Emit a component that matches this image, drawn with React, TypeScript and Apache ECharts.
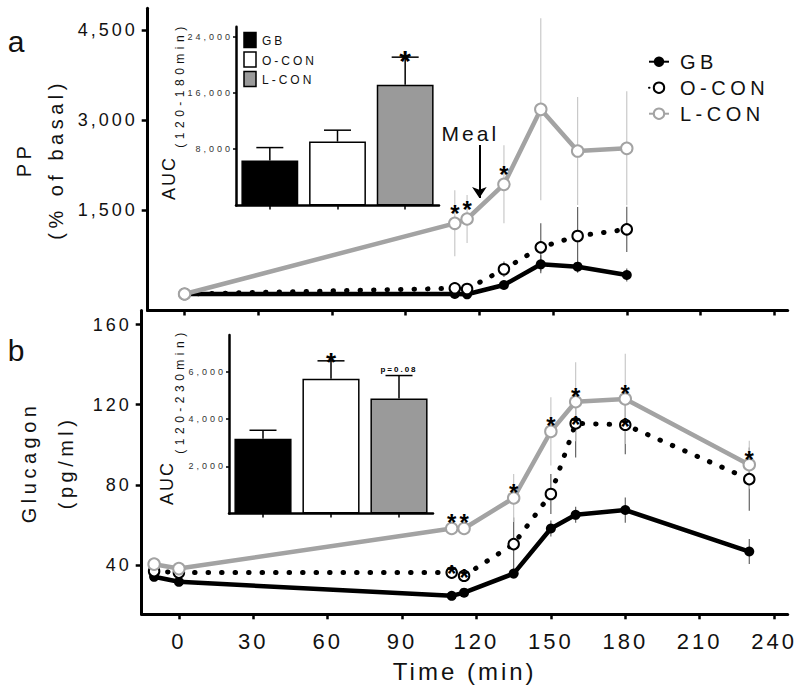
import React, { useEffect, useRef } from 'react';
import * as echarts from 'echarts';

// ---------- data ----------
const groups = ['GB', 'O-CON', 'L-CON'];

// Panel a: PP (% of basal)
const ppTimes = [0, 110, 115, 130, 145, 160, 180];
const ppGB = [100, 100, 95, 250, 595, 555, 417];
const ppGBsem = [0, 30, 30, 50, 150, 100, 110];
const ppOCON = [100, 195, 183, 512, 878, 1067, 1178];
const ppOCONsem = [0, 30, 30, 130, 400, 483, 377];
const ppLCON = [100, 1278, 1350, 1928, 3178, 2483, 2528];
const ppLCONsem = [0, 550, 400, 650, 1517, 900, 950];
const ppLCONstars = [110, 115, 130];
const mealTime = 120;
const mealArrowFrom = 2583;
const mealArrowTo = 1700;

// Panel a inset: AUC (120-180 min)
const aucPP = [6380, 9080, 17137];
const aucPPsem = [1847, 1620, 3936];
const aucPPstars = ['L-CON'];

// Panel b: Glucagon (pg/ml)
const glTimes = [-10, 0, 110, 115, 135, 150, 160, 180, 230];
const glGB = [34.2, 31.7, 24.7, 26.3, 35.8, 58.3, 65.1, 67.5, 46.8];
const glGBsem = [1.5, 1.5, 1.5, 1.5, 2.5, 4, 4, 6.3, 6.2];
const glOCON = [37, 36.3, 36.3, 34.7, 50.5, 75.5, 110.7, 110, 82.9];
const glOCONsem = [2, 2, 2, 2, 13.3, 10, 17, 14.7, 15.8];
const glLCON = [40.5, 38.3, 58.3, 58.3, 73.5, 106.7, 121.5, 122.9, 90.1];
const glLCONsem = [2, 2, 2.5, 2.5, 12, 17, 19.7, 22.5, 12];
const glLCONstars = [110, 115, 135, 150, 160, 180, 230];
const glOCONstars = [110, 115, 160, 180];

// Panel b inset: AUC (120-230 min)
const aucGl = [3161, 5703, 4869];
const aucGlsem = [364, 763, 974];
const aucGlstars = ['O-CON'];
const aucGlPgroups = ['L-CON'];
const aucGlPtext = 'p=0.08';

// ticks
const timeTicks = [0, 30, 60, 90, 120, 150, 180, 210, 240];
const ppTicks = [1500, 3000, 4500];
const glTicks = [40, 80, 120, 160];
const aucPPTicks = [8000, 16000, 24000];
const aucGlTicks = [2000, 4000, 6000];

// ---------- styles ----------
const F0 = 'Liberation Sans';
const F3 = 'Liberation Sans, sans-serif';
const F45 = 'Liberation Sans, Arial';
const F2 = 'Liberation Sans, Helvetica';
const INK = '#111';
const GRAY = '#a3a3a3';
const barColors = ['#000000', '#ffffff', '#9a9a9a'];
const fmt = (v: number) => v.toLocaleString('en-US');

function lineSeries(name: string, gi: number, times: number[], vals: number[], kind: string) {
  const base: any = {
    type: 'line', name, xAxisIndex: gi, yAxisIndex: gi, z: 3,
    data: times.map((t, i) => [t, vals[i]]),
  };
  if (kind === 'GB') {
    base.symbol = 'circle'; base.symbolSize = 10;
    base.lineStyle = { color: '#000', width: 4.5 };
    base.itemStyle = { color: '#000' };
  } else if (kind === 'O-CON') {
    base.symbol = 'emptyCircle'; base.symbolSize = 10.5;
    base.lineStyle = { color: '#000', width: 5, type: [0.5, 13], cap: 'round' };
    base.itemStyle = { color: '#000', borderWidth: 2.6 };
  } else {
    base.symbol = 'emptyCircle'; base.symbolSize = 11.5;
    base.lineStyle = { color: GRAY, width: 4.5 };
    base.itemStyle = { color: GRAY, borderWidth: 2.5 };
    base.z = 4;
  }
  return base;
}

function errSeries(gi: number, times: number[], vals: number[], sems: number[], color: string) {
  return {
    type: 'custom', name: 'err', xAxisIndex: gi, yAxisIndex: gi, silent: true, z: 1,
    data: times.map((t, i) => [t, vals[i] - sems[i], vals[i] + sems[i]]),
    encode: { x: 0, y: [1, 2] },
    renderItem: (params: any, api: any) => {
      const a = api.coord([api.value(0), api.value(1)]);
      const b = api.coord([api.value(0), api.value(2)]);
      return { type: 'line', shape: { x1: a[0], y1: a[1], x2: b[0], y2: b[1] }, style: { stroke: color, lineWidth: 1.1 } };
    },
  };
}

// text annotations (asterisks, p-value) anchored to data points through the axes
function noteSeries(gi: number, points: number[][], text: string, size: number, dy: number, family: string, weight: string) {
  return {
    type: 'custom', name: 'note', xAxisIndex: gi, yAxisIndex: gi, silent: true, z: 10,
    data: points,
    encode: { x: 0, y: 1 },
    renderItem: (params: any, api: any) => {
      const p = api.coord([api.value(0), api.value(1)]);
      return {
        type: 'text', x: p[0], y: p[1] + dy,
        style: { text, fill: '#000', font: `${weight} ${size}px ${family}`, align: 'center', verticalAlign: 'middle' },
      };
    },
  };
}

const starPoints = (times: number[], vals: number[], stars: number[]) => stars.map((t) => [t, vals[times.indexOf(t)]]);
const capPoints = (vals: number[], sems: number[], which: string[]) =>
  which.map((g) => { const i = groups.indexOf(g); return [i, vals[i] + sems[i]]; });

function barSeries(gi: number, vals: number[]) {
  return {
    type: 'bar', name: 'auc', xAxisIndex: gi, yAxisIndex: gi, barWidth: '84%', z: 2,
    data: vals.map((v, i) => ({ value: v, itemStyle: { color: barColors[i], borderColor: '#000', borderWidth: 1.5 } })),
  };
}

function barErrSeries(gi: number, vals: number[], sems: number[]) {
  return {
    type: 'custom', name: 'auc err', xAxisIndex: gi, yAxisIndex: gi, silent: true, z: 3,
    data: vals.map((v, i) => [i, v, v + sems[i]]),
    encode: { x: 0, y: [1, 2] },
    renderItem: (params: any, api: any) => {
      const a = api.coord([api.value(0), api.value(1)]);
      const b = api.coord([api.value(0), api.value(2)]);
      return {
        type: 'group',
        children: [
          { type: 'line', shape: { x1: a[0], y1: a[1], x2: b[0], y2: b[1] }, style: { stroke: '#000', lineWidth: 1.5 } },
          { type: 'line', shape: { x1: b[0] - 13.5, y1: b[1], x2: b[0] + 13.5, y2: b[1] }, style: { stroke: '#000', lineWidth: 1.5 } },
        ],
      };
    },
  };
}

function mainX(gi: number, labels: boolean): any {
  return {
    type: 'value', gridIndex: gi, min: -15, max: 245.5,
    axisLine: { show: true, onZero: false, lineStyle: { color: '#000', width: 3 } },
    axisTick: { show: true, customValues: timeTicks, length: 5, lineStyle: { color: '#000', width: 2.5 } },
    axisLabel: labels
      ? { show: true, customValues: timeTicks, fontSize: 22, fontFamily: F3, color: INK, margin: 16 }
      : { show: false },
    splitLine: { show: false },
    ...(labels ? { name: 'Time (min)', nameLocation: 'middle', nameGap: 45, nameTextStyle: { fontSize: 24, fontFamily: F3, color: INK } } : {}),
  };
}

function mainY(gi: number, min: number, max: number, ticks: number[], name: string, lh: number, gap: number): any {
  return {
    type: 'value', gridIndex: gi, min, max,
    axisLine: { show: true, onZero: false, lineStyle: { color: '#000', width: 3 } },
    axisTick: { show: true, customValues: ticks, length: 6, lineStyle: { color: '#000', width: 2.5 } },
    axisLabel: { show: true, customValues: ticks, formatter: fmt, fontSize: 18, fontFamily: F3, color: INK, margin: 10 },
    splitLine: { show: false },
    name, nameLocation: 'middle', nameRotate: 90, nameGap: gap,
    nameTextStyle: { fontSize: 20, lineHeight: lh, fontFamily: F45, color: INK },
  };
}

function insetX(gi: number): any {
  return {
    type: 'category', gridIndex: gi, data: groups,
    axisLine: { show: true, onZero: false, lineStyle: { color: '#000', width: 2.5 } },
    axisTick: { show: true, alignWithLabel: true, length: 4, lineStyle: { color: '#000', width: 1.5 } },
    axisLabel: { show: false },
    splitLine: { show: false },
  };
}

function insetY(gi: number, max: number, ticks: number[]): any {
  return {
    type: 'value', gridIndex: gi, min: 0, max,
    axisLine: { show: true, onZero: false, lineStyle: { color: '#000', width: 2.5 } },
    axisTick: { show: true, customValues: ticks, length: 3, lineStyle: { color: '#000', width: 1.5 } },
    axisLabel: { show: true, customValues: ticks, formatter: fmt, fontSize: 9, fontFamily: F3, color: '#333', margin: 3 },
    splitLine: { show: false },
  };
}

function buildOption(): any {
  const insetLegendRows = [40, 59.5, 79];
  const graphic: any[] = [
    { type: 'text', x: 16, y: 41.5, style: { text: 'a', font: `30px ${F0}`, fill: INK, textAlign: 'center', textVerticalAlign: 'middle' } },
    { type: 'text', x: 16, y: 350, style: { text: 'b', font: `30px ${F0}`, fill: INK, textAlign: 'center', textVerticalAlign: 'middle' } },
    { type: 'text', x: 168.5, y: 178, rotation: Math.PI / 2, style: { text: 'AUC', font: `18px ${F2}`, fill: INK, textAlign: 'center', textVerticalAlign: 'middle' } },
    { type: 'text', x: 180, y: 85, rotation: Math.PI / 2, style: { text: '(120-180min)', font: `12px ${F45}`, fill: INK, textAlign: 'center', textVerticalAlign: 'middle' } },
    { type: 'text', x: 167, y: 483, rotation: Math.PI / 2, style: { text: 'AUC', font: `18px ${F2}`, fill: INK, textAlign: 'center', textVerticalAlign: 'middle' } },
    { type: 'text', x: 179.5, y: 391, rotation: Math.PI / 2, style: { text: '(120-230min)', font: `12px ${F45}`, fill: INK, textAlign: 'center', textVerticalAlign: 'middle' } },
  ];
  groups.forEach((g, i) => {
    graphic.push({ type: 'rect', shape: { x: 244, y: insetLegendRows[i] - 7.5, width: 12, height: 15 }, style: { fill: barColors[i], stroke: '#000', lineWidth: 1.5 } });
    graphic.push({ type: 'text', x: 262, y: insetLegendRows[i] + 1, style: { text: g, font: `12px ${F3}`, fill: INK, textAlign: 'left', textVerticalAlign: 'middle' } });
  });

  const ppL = lineSeries('L-CON', 0, ppTimes, ppLCON, 'L-CON');
  ppL.markLine = {
    silent: true, symbol: ['none', 'arrow'], symbolSize: 11,
    lineStyle: { color: '#000', width: 2, type: 'solid' },
    label: { show: true, position: 'start', formatter: 'Meal', fontSize: 21, fontFamily: F3, color: INK, distance: 1, offset: [-9, 0] },
    data: [[{ coord: [mealTime, mealArrowFrom] }, { coord: [mealTime, mealArrowTo] }]],
  };

  return {
    animation: false,
    backgroundColor: '#fff',
    grid: [
      { left: 141.7, top: 8.3, width: 646, height: 302.2 },
      { left: 141.7, top: 310.5, width: 646, height: 303.8 },
      { left: 236, top: 26.7, width: 203, height: 178.8 },
      { left: 229, top: 335, width: 204, height: 178.5 },
    ],
    xAxis: [mainX(0, false), mainX(1, true), insetX(2), insetX(3)],
    yAxis: [
      mainY(0, -175, 4862, ppTicks, 'PP\n(% of basal)', 32, 75.7),
      mainY(1, 15.5, 167, glTicks, 'Glucagon\n(pg/ml)', 37, 57.2),
      insetY(2, 25400, aucPPTicks),
      insetY(3, 7560, aucGlTicks),
    ],
    legend: {
      data: groups, orient: 'vertical', left: 648, top: 50.7, padding: 0,
      itemWidth: 20, itemHeight: 13, itemGap: 4, selectedMode: false,
      textStyle: { fontSize: 20, lineHeight: 22, fontFamily: F45, color: INK, padding: [0, 0, 0, 6] },
    },
    graphic,
    series: [
      lineSeries('GB', 0, ppTimes, ppGB, 'GB'),
      lineSeries('O-CON', 0, ppTimes, ppOCON, 'O-CON'),
      ppL,
      errSeries(0, ppTimes, ppGB, ppGBsem, '#555'),
      errSeries(0, ppTimes, ppOCON, ppOCONsem, '#555'),
      errSeries(0, ppTimes, ppLCON, ppLCONsem, '#c4c4c4'),
      noteSeries(0, starPoints(ppTimes, ppLCON, ppLCONstars), '*', 24, -9.6, F0, 'bold'),

      lineSeries('GB', 1, glTimes, glGB, 'GB'),
      lineSeries('O-CON', 1, glTimes, glOCON, 'O-CON'),
      lineSeries('L-CON', 1, glTimes, glLCON, 'L-CON'),
      errSeries(1, glTimes, glGB, glGBsem, '#555'),
      errSeries(1, glTimes, glOCON, glOCONsem, '#555'),
      errSeries(1, glTimes, glLCON, glLCONsem, '#c4c4c4'),
      noteSeries(1, starPoints(glTimes, glLCON, glLCONstars), '*', 24, -5.6, F0, 'bold'),
      noteSeries(1, starPoints(glTimes, glOCON, glOCONstars), '*', 24, 1.4, F0, 'bold'),

      barSeries(2, aucPP),
      barErrSeries(2, aucPP, aucPPsem),
      noteSeries(2, capPoints(aucPP, aucPPsem, aucPPstars), '*', 30, 3.4, F0, 'bold'),

      barSeries(3, aucGl),
      barErrSeries(3, aucGl, aucGlsem),
      noteSeries(3, capPoints(aucGl, aucGlsem, aucGlstars), '*', 26, 1.2, F0, 'bold'),
      noteSeries(3, capPoints(aucGl, aucGlsem, aucGlPgroups), aucGlPtext, 8, -6, F2, 'bold'),
    ],
  };
}

export default function App() {
  const ref = useRef<HTMLDivElement>(null);
  useEffect(() => {
    if (!ref.current) return;
    const chart = echarts.init(ref.current, undefined, { renderer: 'svg' });
    chart.setOption(buildOption());
    return () => chart.dispose();
  }, []);
  return (
    <>
      <style>{`
        #c text[style*="Arial"]{letter-spacing:4.5px}
        #c text[style*="Helvetica"]{letter-spacing:2px}
        #c text[style*="sans-serif"]{letter-spacing:3px}
      `}</style>
      <div id="c" ref={ref} style={{ position: 'absolute', left: 0, top: 0, width: 800, height: 694, background: '#fff' }} />
    </>
  );
}
